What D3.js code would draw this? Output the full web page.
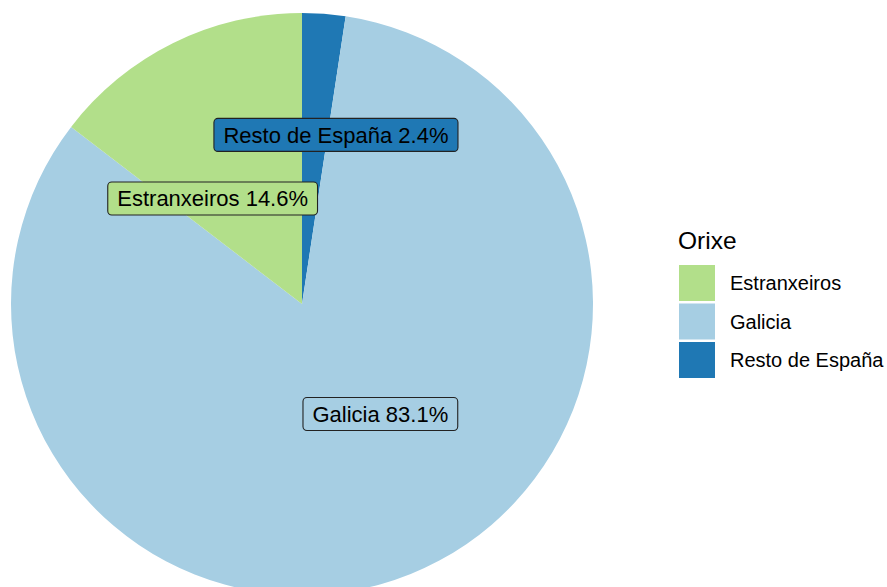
<!DOCTYPE html>
<html>
<head>
<meta charset="utf-8">
<script src="https://cdn.jsdelivr.net/npm/d3@7"></script>
<style>
  body { margin: 0; background: #fff; }
  text { font-family: "Liberation Sans", Arial, sans-serif; }
</style>
</head>
<body>
<div id="viz"></div>
<script>
  let categories = ['Estranxeiros', 'Galicia', 'Resto de España'];
  let values = [14.6, 83.1, 2.4];
  let colours = ['#b2df8a', '#a6cee3', '#1f78b4'];
  // the label boxes are pushed off the slice midpoints a bit
  let nudgeX = [-25, 24, 23];
  let nudgeY = [25, -25, -24];

  let width = 887, height = 587;
  let cx = 302, cy = 304, radius = 291;

  let svg = d3.select('#viz')
    .append('svg')
    .attr('width', width)
    .attr('height', height);

  let data = categories.map((c, i) => ({ name: c, value: values[i], i: i }));

  let colour = d3.scaleOrdinal()
    .domain(categories)
    .range(colours);

  // stack from the top clockwise: last category first
  let stacked = data.slice().reverse();
  let total = d3.sum(values);
  let angle = d3.scaleLinear().domain([0, total]).range([0, 2 * Math.PI]);

  let acc = 0;
  stacked.forEach(d => {
    d.startAngle = angle(acc);
    acc += d.value;
    d.endAngle = angle(acc);
  });

  let arc = d3.arc().innerRadius(0).outerRadius(radius);

  let pie = svg.append('g')
    .attr('transform', `translate(${cx},${cy})`);

  pie.selectAll('path')
    .data(stacked)
    .join('path')
    .attr('d', arc)
    .style('fill', d => colour(d.name));

  // labels
  let labels = pie.selectAll('.lab')
    .data(stacked)
    .join('g')
    .attr('class', 'lab')
    .attr('transform', d => {
      let c = arc.centroid(d);
      return `translate(${c[0] + nudgeX[d.i]},${c[1] + nudgeY[d.i]})`;
    });

  labels.append('text')
    .attr('text-anchor', 'middle')
    .attr('dy', '0.35em')
    .style('font-size', '22px')
    .style('fill', '#000')
    .text(d => `${d.name} ${d.value.toFixed(1)}%`);

  labels.each(function () {
    let g = d3.select(this);
    let bb = g.select('text').node().getBBox();
    g.insert('rect', 'text')
      .attr('x', bb.x - 9.5)
      .attr('y', -16.5)
      .attr('width', bb.width + 19)
      .attr('height', 33)
      .attr('rx', 4)
      .style('fill', d => colour(d.name))
      .style('stroke', '#222')
      .style('stroke-width', 1.1);
  });

  // legend
  let legend = svg.append('g')
    .attr('transform', 'translate(678, 0)');

  legend.append('text')
    .attr('x', 0)
    .attr('y', 249)
    .style('font-size', '24.5px')
    .text('Orixe');

  let keys = legend.selectAll('.key')
    .data(data)
    .join('g')
    .attr('class', 'key')
    .attr('transform', (d, i) => `translate(0, ${265 + i * 38.5})`);

  keys.append('rect')
    .attr('x', 1)
    .attr('width', 36)
    .attr('height', 36)
    .style('fill', d => colour(d.name));

  keys.append('text')
    .attr('x', 52)
    .attr('y', 18)
    .attr('dy', '0.35em')
    .style('font-size', '20px')
    .text(d => d.name);
</script>
</body>
</html>
